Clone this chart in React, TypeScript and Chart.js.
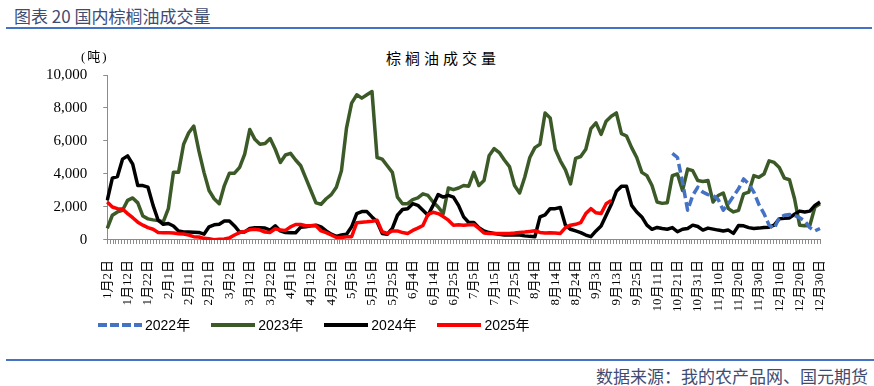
import React, { useEffect, useRef } from "react";
import { Chart, registerables } from "chart.js";

Chart.register(...registerables);

// ---- data ----
const tickLabels = [
  "1月2日", "1月12日", "1月22日", "2月1日", "2月11日", "2月21日",
  "3月2日", "3月12日", "3月22日", "4月1日", "4月12日", "4月22日",
  "5月5日", "5月15日", "5月25日", "6月4日", "6月14日", "6月25日",
  "7月5日", "7月15日", "7月25日", "8月4日", "8月14日", "8月24日",
  "9月3日", "9月13日", "9月25日", "10月11日", "10月21日", "10月31日",
  "11月10日", "11月20日", "11月30日", "12月10日", "12月20日", "12月30日",
];
const pointsPerLabel = 4; // samples per labelled interval
const daysPerLabel = 7; // trading days per labelled interval (minor tick marks)

const seriesNames = ["2022年", "2023年", "2024年", "2025年"];
const seriesColors = ["#4472C4", "#3B5A27", "#000000", "#FF0000"];

// 2022 begins late October
const start2022 = 111;
const v2022 = [
  5250, 5000, 3500, 1800, 2700, 3200, 2900, 2750, 2700, 2450,
  1800, 2200, 2650, 3100, 3700, 3400, 2900, 2150, 1600, 900,
  700, 1350, 1500, 1540, 1480, 1350, 1150, 750, 550, 700,
];

const v2023 = [
  700, 1500, 1700, 1800, 2400, 2550, 2250, 1450, 1280, 1220,
  1180, 1100, 1900, 4100, 4100, 5800, 6500, 6900, 5400, 4100,
  3000, 2500, 2200, 3300, 4050, 4050, 4400, 5200, 6700, 6100,
  5800, 5850, 6150, 5500, 4700, 5150, 5250, 4850, 4500, 3750,
  3000, 2250, 2170, 2500, 2750, 3200, 4200, 6800, 8300, 8800,
  8600, 8800, 9000, 5000, 4900, 4500, 4100, 2600, 2200, 2200,
  2450, 2550, 2800, 2700, 2300, 2000, 1600, 3150, 3050, 3150,
  3300, 3260, 4100, 3300, 3600, 5100, 5540, 5300, 4850, 4450,
  3300, 2850, 3800, 5000, 5600, 5800, 7700, 7400, 5500, 4800,
  4250, 3400, 4950, 5060, 5500, 6750, 7100, 6400, 7200, 7500,
  7700, 6450, 6300, 5600, 5000, 4100, 3900, 3300, 2300, 2220,
  2260, 3900, 4000, 3000, 4300, 4200, 3600, 3550, 3600, 2300,
  2700, 2850, 1900, 1700, 1800, 2800, 2900, 3900, 3800, 4000,
  4800, 4700, 4400, 3750, 3650, 2500, 900, 860, 880, 2000,
  2200,
];

const v2024 = [
  2400, 3750, 3850, 4900, 5100, 4600, 3300, 3300, 3200, 2100,
  1200, 950, 1000, 850, 550, 480, 480, 470, 460, 350,
  800, 920, 950, 1150, 1150, 850, 480, 490, 700, 750,
  740, 720, 600, 860, 550, 450, 440, 440, 780, 800,
  860, 900, 800, 550, 350, 220, 300, 350, 800, 1600,
  1720, 1720, 1400, 1100, 400, 350, 700, 1500, 1850, 1900,
  2200, 2100, 1800, 1500, 2100, 2750, 2600, 2700, 2600, 2100,
  1400, 1060, 1060, 750, 550, 450, 400, 350, 300, 300,
  300, 300, 250, 220, 200, 1400, 1520, 1900, 1900, 1970,
  900, 650, 550, 450, 300, 200, 550, 850, 1500, 2150,
  2950, 3250, 3250, 2100, 1700, 1400, 900, 650, 760, 700,
  650, 750, 500, 650, 700, 900, 820, 600, 720, 660,
  600, 550, 600, 400, 880, 860, 750, 700, 720, 760,
  780, 900, 1280, 1320, 1340, 1560, 1750, 1700, 1750, 2100,
  2300,
];

const v2025 = [
  2300, 2000, 1900, 1880, 1600, 1350, 1080, 900, 750, 650,
  460, 440, 440, 420, 380, 360, 300, 200, 180, 100,
  70, 20, 40, 60, 130, 300, 450, 520, 620, 650,
  600, 480, 460, 680, 600, 580, 800, 940, 940, 860,
  860, 860, 550, 450, 300, 150, 150, 200, 200, 1040,
  1080, 1100, 1140, 1200, 500, 400, 550, 550, 450, 400,
  580, 720, 880, 1550, 1680, 1600, 1420, 1200, 900, 920,
  900, 930, 940, 700, 420, 400, 400, 400, 400, 400,
  420, 460, 480, 520, 560, 460, 420, 440, 430, 400,
  750, 900, 950, 1050, 1600, 1900, 1650, 1600, 2200, 2400,
];

const yMax = 10000;
const yStep = 2000;

// ---- helpers building library tables from the arrays ----
const nIntervals = tickLabels.length - 1;
const nPoints = nIntervals * pointsPerLabel + 1;
const categories = Array.from({ length: nPoints }, (_, i) =>
  i % pointsPerLabel === 0 ? tickLabels[i / pointsPerLabel] : ""
);
const data2022 = categories.map((_, i) =>
  i >= start2022 && i - start2022 < v2022.length ? v2022[i - start2022] : null
);
const data2025 = categories.map((_, i) => (i < v2025.length ? v2025[i] : null));

const serif = "'Liberation Serif', 'Times New Roman', 'Noto Sans CJK SC', serif";
const sans = "'Liberation Sans', Arial, 'Noto Sans CJK SC', sans-serif";
const cjk = "'Noto Sans CJK SC', 'Liberation Sans', sans-serif";
const axisGray = "#8c8c8c";
const headBlue = "#4472C4";
const headText = "#3F4C72";

export default function App() {
  const ref = useRef<HTMLCanvasElement | null>(null);

  useEffect(() => {
    if (!ref.current) return;
    const common = { xAxisID: "x", yAxisID: "y" };
    const chart = new Chart(ref.current, {
      type: "line",
      data: {
        labels: categories,
        datasets: [
          {
            ...common,
            label: seriesNames[0],
            data: data2022,
            borderColor: seriesColors[0],
            backgroundColor: seriesColors[0],
            borderDash: [9, 4],
            order: 0,
          },
          {
            ...common,
            label: seriesNames[1],
            data: v2023,
            borderColor: seriesColors[1],
            backgroundColor: seriesColors[1],
            order: 3,
          },
          {
            ...common,
            label: seriesNames[2],
            data: v2024,
            borderColor: seriesColors[2],
            backgroundColor: seriesColors[2],
            order: 2,
          },
          {
            ...common,
            label: seriesNames[3],
            data: data2025,
            borderColor: seriesColors[3],
            backgroundColor: seriesColors[3],
            order: 1,
          },
        ],
      },
      options: {
        animation: false,
        responsive: false,
        maintainAspectRatio: false,
        layout: { padding: { left: 30, right: 54, top: 4, bottom: 0 } },
        plugins: {
          legend: { display: false },
          tooltip: { enabled: false },
          title: { display: false },
        },
        elements: {
          point: { radius: 0, hoverRadius: 0 },
          line: { tension: 0, borderWidth: 3.5, borderJoinStyle: "round", fill: false },
        },
        scales: {
          x: {
            type: "category",
            position: "bottom",
            weight: 1,
            offset: false,
            grid: { display: false, drawOnChartArea: false, drawTicks: false },
            border: { display: false },
            ticks: {
              autoSkip: false,
              maxRotation: 90,
              minRotation: 90,
              padding: 16,
              color: "#000",
              font: { family: serif, size: 13 },
            },
          },
          // minor tick marks (one per trading day), drawn right under the plot
          xDays: {
            type: "linear",
            position: "bottom",
            weight: 0,
            min: 0,
            max: nIntervals * daysPerLabel,
            grid: {
              drawOnChartArea: false,
              drawTicks: true,
              tickLength: 4,
              color: axisGray,
            },
            border: { color: axisGray, width: 1 },
            ticks: { display: false, stepSize: 1 },
          },
          y: {
            min: 0,
            max: yMax,
            grid: {
              drawOnChartArea: false,
              drawTicks: true,
              tickLength: 4,
              color: axisGray,
            },
            border: { color: axisGray, width: 1 },
            ticks: {
              stepSize: yStep,
              padding: 16,
              color: "#000",
              font: { family: serif, size: 15 },
              callback: (v: any) => Number(v).toLocaleString("en-US"),
            },
          },
        },
      },
    });
    return () => chart.destroy();
  }, []);

  return (
    <div
      style={{
        position: "fixed",
        left: 0,
        top: 0,
        width: 874,
        height: 386,
        background: "#fff",
        overflow: "hidden",
      }}
    >
      <div
        style={{
          position: "absolute",
          left: 14,
          top: 6,
          fontFamily: cjk,
          fontSize: 17,
          lineHeight: "20px",
          color: headText,
          whiteSpace: "nowrap",
        }}
      >
        图表 20 国内棕榈油成交量
      </div>
      <div
        style={{ position: "absolute", left: 6, top: 27, width: 866, height: 2, background: headBlue }}
      />
      <div
        style={{
          position: "absolute",
          left: 0,
          width: 886,
          top: 49,
          textAlign: "center",
          fontFamily: cjk,
          fontSize: 15,
          lineHeight: "18px",
          letterSpacing: 4,
          color: "#000",
          whiteSpace: "nowrap",
        }}
      >
        棕榈油成交量
      </div>
      <canvas
        ref={ref}
        width={874}
        height={278}
        style={{ position: "absolute", left: 0, top: 50, width: 874, height: 278 }}
      />
      <div
        style={{
          position: "absolute",
          left: 81,
          top: 49,
          fontFamily: serif,
          fontSize: 13,
          lineHeight: "16px",
          letterSpacing: 2,
          color: "#000",
          whiteSpace: "nowrap",
        }}
      >
        (吨)
      </div>
      <div
        style={{
          position: "absolute",
          left: 98,
          top: 316,
          height: 18,
          display: "flex",
          alignItems: "center",
          gap: 21,
          fontFamily: sans,
          fontSize: 14,
          color: "#000",
          whiteSpace: "nowrap",
        }}
      >
        {seriesNames.map((name, i) => (
          <div key={name} style={{ display: "flex", alignItems: "center" }}>
            <div
              style={{
                width: 44,
                height: 4,
                marginRight: 3,
                background:
                  i === 0
                    ? `repeating-linear-gradient(to right, ${seriesColors[i]} 0 9px, transparent 9px 12px)`
                    : seriesColors[i],
              }}
            />
            <span style={{ lineHeight: "18px" }}>{name}</span>
          </div>
        ))}
      </div>
      <div
        style={{ position: "absolute", left: 6, top: 359, width: 868, height: 2, background: headBlue }}
      />
      <div
        style={{
          position: "absolute",
          right: 6,
          top: 366,
          fontFamily: cjk,
          fontSize: 17,
          lineHeight: "20px",
          color: headText,
          whiteSpace: "nowrap",
        }}
      >
        数据来源：我的农产品网、国元期货
      </div>
    </div>
  );
}
